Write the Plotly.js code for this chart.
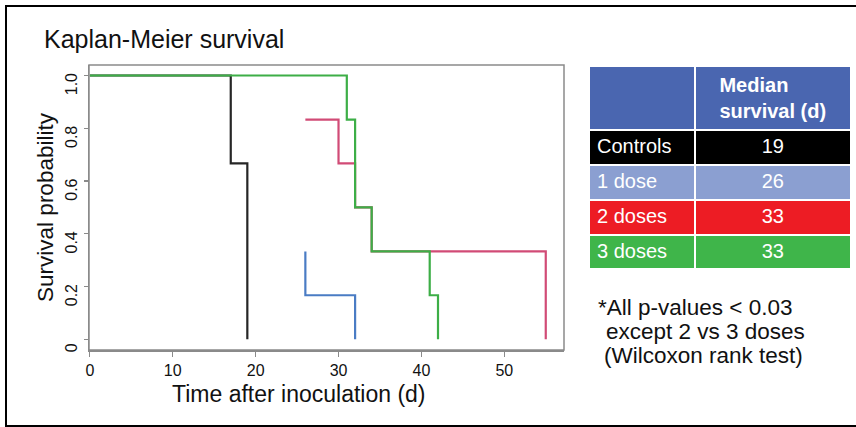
<!DOCTYPE html>
<html>
<head>
<meta charset="utf-8">
<script src="https://cdn.plot.ly/plotly-3.0.1.min.js"></script>
<style>html,body{margin:0;padding:0;background:#fff;}#chart{width:856px;height:427px;}</style>
</head>
<body>
<div id="chart"></div>
<script>
// Kaplan-Meier step curves (time in days, survival probability), drawn with 'hv' steps
var ctrlTime  = [0, 17, 19];
var ctrlSurv  = [1.0, 0.667, 0];
var dose1Time = [26, 26, 32];
var dose1Surv = [0.333, 0.167, 0];
var dose2Time = [26, 30, 32, 34, 55];
var dose2Surv = [0.833, 0.667, 0.5, 0.333, 0];
var dose3Time = [0, 31, 32, 34, 41, 42];
var dose3Surv = [1.0, 0.833, 0.5, 0.333, 0.167, 0];

// Table
var groups  = ["Controls", "1 dose", "2 doses", "3 doses"];
var medians = ["19", "26", "33", "33"];
var rowColors = ["#000000", "#8b9fd1", "#ed1c24", "#3fb54a"];

var yTickVals = [0, 0.2, 0.4, 0.6, 0.8, 1.0];
var yTickText = ["0", "0.2", "0.4", "0.6", "0.8", "1.0"];
var xTickVals = [0, 10, 20, 30, 40, 50];

var FONT = "Liberation Sans, Arial, Helvetica, sans-serif";
var L = 89, R = 4, T = 65, B = 77, W = 856, H = 427;
var pw = W - L - R, ph = H - T - B;
function px(x) { return (x - L) / pw; }
function py(y) { return (H - B - y) / ph; }

function km(t, s, color) {
  return {type: "scatter", mode: "lines", x: t, y: s,
          line: {shape: "hv", color: color, width: 2.2},
          hoverinfo: "skip", showlegend: false, xaxis: "x", yaxis: "y"};
}

var data = [
  km(ctrlTime, ctrlSurv, "#262626"),
  km(dose1Time, dose1Surv, "#4a7cc4"),
  km(dose2Time, dose2Surv, "#d14b76"),
  km(dose3Time, dose3Surv, "#3dae47"),
  {
    type: "table",
    domain: {x: [px(589), 1], y: [py(268), py(66)]},
    columnwidth: [106, 157],
    header: {
      values: [[""], ["<b>Median</b><br><b>survival (d)</b>"]],
      fill: {color: "#4a66b0"},
      line: {color: "#ffffff", width: 2},
      font: {family: FONT, size: 20, color: "#ffffff"},
      align: "center",
      height: 60
    },
    cells: {
      values: [groups, medians],
      fill: {color: [rowColors, rowColors]},
      line: {color: "#ffffff", width: 2},
      font: {family: FONT, size: 20, color: "#ffffff"},
      align: ["left", "center"],
      height: 35
    }
  }
];

var layout = {
  width: W, height: H,
  margin: {l: L, r: R, t: T, b: B, pad: 0},
  paper_bgcolor: "#ffffff", plot_bgcolor: "#ffffff",
  font: {family: FONT, color: "#111111"},
  title: {text: "Kaplan-Meier survival", font: {family: FONT, size: 25, color: "#111111"},
          x: 44 / W, xanchor: "left", xref: "container",
          y: 1 - 39 / H, yanchor: "middle", yref: "container"},
  xaxis: {
    domain: [0, px(564)], range: [-0.1, 57.2],
    showgrid: false, zeroline: false,
    showline: true, linecolor: "#8a8a8a", linewidth: 1.5,
    ticks: "outside", ticklen: 5, tickcolor: "#8a8a8a", tickwidth: 1.2,
    tickvals: xTickVals, tickfont: {family: FONT, size: 16, color: "#111111"}
  },
  yaxis: {
    range: [-0.0406, 1.0398],
    showgrid: false, zeroline: false,
    showline: true, linecolor: "#8a8a8a", linewidth: 1.5,
    ticks: "outside", ticklen: 4, tickcolor: "#8a8a8a", tickwidth: 1.2,
    tickvals: yTickVals, ticktext: yTickText, tickangle: -90, ticklabelshift: 11,
    tickfont: {family: FONT, size: 16, color: "#111111"},
    title: {text: "Survival probability", font: {family: FONT, size: 22.5, color: "#111111"}, standoff: 3}
  },
  shapes: [
    {type: "rect", xref: "x domain", yref: "y domain", x0: 0, x1: 1, y0: 0, y1: 1,
     line: {color: "#8a8a8a", width: 1.5}, fillcolor: "rgba(0,0,0,0)", layer: "above"},
    {type: "rect", xref: "paper", yref: "paper",
     x0: px(6), x1: px(880), y0: py(426), y1: py(6),
     line: {color: "#000000", width: 2}, fillcolor: "rgba(0,0,0,0)", layer: "below"}
  ],
  annotations: [
    {xref: "paper", yref: "paper", x: px(299), y: py(394), xanchor: "center", yanchor: "middle",
     text: "Time after inoculation (d)", showarrow: false, font: {family: FONT, size: 23, color: "#111111"}},
    {xref: "paper", yref: "paper", x: px(596), y: py(307), xanchor: "left", yanchor: "middle",
     text: "*All p-values < 0.03", showarrow: false, font: {family: FONT, size: 22.5, color: "#111111"}},
    {xref: "paper", yref: "paper", x: px(604), y: py(331), xanchor: "left", yanchor: "middle",
     text: "except 2 vs 3 doses", showarrow: false, font: {family: FONT, size: 22.5, color: "#111111"}},
    {xref: "paper", yref: "paper", x: px(602), y: py(355), xanchor: "left", yanchor: "middle",
     text: "(Wilcoxon rank test)", showarrow: false, font: {family: FONT, size: 22.5, color: "#111111"}}
  ]
};

Plotly.newPlot("chart", data, layout, {displayModeBar: false, staticPlot: true});
</script>
</body>
</html>
